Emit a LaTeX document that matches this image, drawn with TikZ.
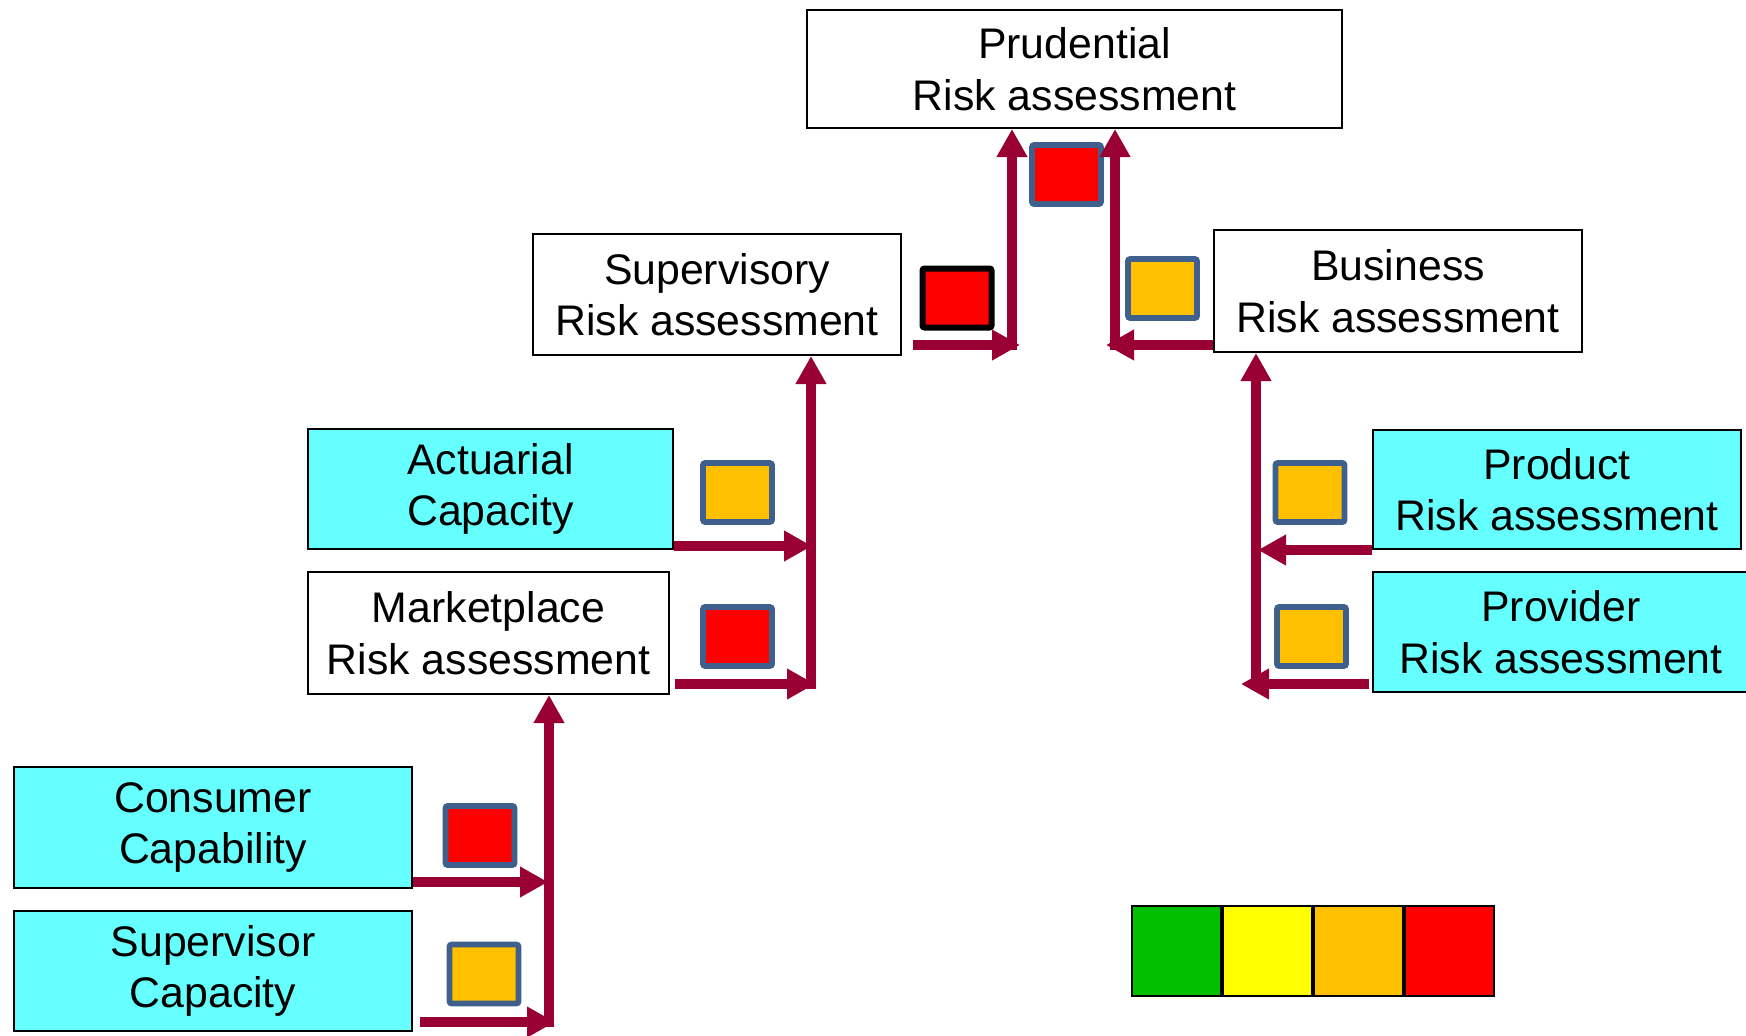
\documentclass[tikz,border=0pt]{standalone}
\usepackage{fontspec}
\setmainfont{Liberation Sans}
\usetikzlibrary{arrows.meta,calc}
\definecolor{arrowred}{HTML}{990033}
\definecolor{boxcyan}{HTML}{66FFFF}
\definecolor{sqborder}{HTML}{3F5F8C}
\definecolor{amber}{HTML}{FFC000}
\definecolor{lgreen}{HTML}{00C000}
\definecolor{lyellow}{HTML}{FFFF00}
\begin{document}
\begin{tikzpicture}[x=0.5pt,y=-0.5pt,
  box/.style={draw=black, line width=1pt, align=center, inner sep=0pt,
              font=\fontsize{21.4}{25.8}\selectfont},
  wbox/.style={box, fill=white},
  cbox/.style={box, fill=boxcyan},
  sq/.style={draw=sqborder, line width=2.8pt, rounded corners=1pt,
             minimum width=34.5pt, minimum height=29.5pt, inner sep=0pt},
  blacksq/.style={sq, draw=black, line width=3pt},
  conn/.style={draw=arrowred, line width=4.75pt,
               -{Triangle[length=14pt,width=14.5pt]}},
  cell/.style={draw=black, line width=1pt, minimum width=44.5pt,
               minimum height=45pt, inner sep=0pt}
]
\useasboundingbox (0,0) rectangle (1746,1035);

% boxes
\node[wbox, minimum width=267.5pt, minimum height=59pt] (pru) at (1074.5,69) {Prudential\\Risk assessment};
\node[wbox, minimum width=184pt, minimum height=60.5pt] (sup) at (717,294.5) {Supervisory\\Risk assessment};
\node[wbox, minimum width=184pt, minimum height=61pt] (bus) at (1398,291) {Business\\Risk assessment};
\node[cbox, minimum width=182.5pt, minimum height=60pt] (act) at (490.5,489) {Actuarial\\Capacity};
\node[wbox, minimum width=180.5pt, minimum height=61pt] (mkt) at (488.5,633) {Marketplace\\Risk assessment};
\node[cbox, minimum width=184pt, minimum height=59.5pt] (prod) at (1557,489.5) {Product\\Risk assessment};
\node[cbox, minimum width=188pt, minimum height=60pt] (prov) at (1561,632) {Provider\\Risk assessment};
\node[cbox, minimum width=199pt, minimum height=60.5pt] (cons) at (213,827.5) {Consumer\\Capability};
\node[cbox, minimum width=199pt, minimum height=60pt] (scap) at (213,971) {Supervisor\\Capacity};

% rating squares
\node[sq, fill=red] (qpru) at (1066.5,174.5) {};
\node[blacksq, fill=red] (qsup) at (957,298) {};
\node[sq, fill=amber] (qbus) at (1162.5,288.5) {};
\node[sq, fill=amber] (qact) at (737.5,492.5) {};
\node[sq, fill=red] (qmkt) at (737.5,636.5) {};
\node[sq, fill=amber] (qprod) at (1310,492.5) {};
\node[sq, fill=amber] (qprov) at (1311.5,636.5) {};
\node[sq, fill=red] (qcons) at (480,835.5) {};
\node[sq, fill=amber] (qscap) at (484,974) {};

% Supervisory -> Prudential
\coordinate (s1) at (913,345);
\coordinate (t1) at (1020,345);
\coordinate (v1) at (1012,350);
\draw[conn] (s1) -- (t1);
\draw[conn] (v1) -- (v1 |- pru.south);

% Business -> Prudential
\coordinate (s2) at (1213,345);
\coordinate (t2) at (1106,345);
\coordinate (v2) at (1115,350);
\draw[conn] (s2) -- (t2);
\draw[conn] (v2) -- (v2 |- pru.south);

% Actuarial / Marketplace -> Supervisory
\coordinate (v3) at (811,689);
\coordinate (s3a) at (674,546);
\coordinate (t3a) at (812,546);
\coordinate (s3b) at (675,684);
\coordinate (t3b) at (815,684);
\draw[conn] (v3) -- (v3 |- sup.south);
\draw[conn] (s3a) -- (t3a);
\draw[conn] (s3b) -- (t3b);

% Consumer / Supervisor capacity -> Marketplace
\coordinate (v4) at (549,1027);
\coordinate (s4a) at (413,882);
\coordinate (t4a) at (548,882);
\coordinate (s4b) at (420,1022);
\coordinate (t4b) at (555,1022);
\draw[conn] (v4) -- (v4 |- mkt.south);
\draw[conn] (s4a) -- (t4a);
\draw[conn] (s4b) -- (t4b);

% Product / Provider -> Business
\coordinate (v5) at (1256,688);
\coordinate (s5a) at (1372,550);
\coordinate (t5a) at (1258,550);
\coordinate (s5b) at (1369,684);
\coordinate (t5b) at (1241,684);
\draw[conn] (v5) -- (v5 |- bus.south);
\draw[conn] (s5a) -- (t5a);
\draw[conn] (s5b) -- (t5b);

% legend
\node[cell, fill=lgreen] (l1) at (1176.5,951) {};
\node[cell, fill=lyellow] (l2) at (1267.5,951) {};
\node[cell, fill=amber] (l3) at (1358.5,951) {};
\node[cell, fill=red] (l4) at (1449.5,951) {};
\end{tikzpicture}
\end{document}
